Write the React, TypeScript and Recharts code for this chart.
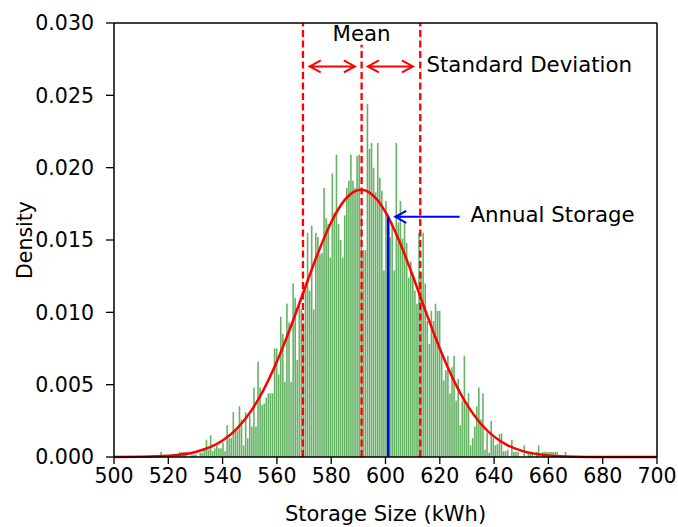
import {
  ComposedChart,
  Bar,
  Line,
  XAxis,
  YAxis,
  ReferenceLine,
  ReferenceDot,
  Label,
} from "recharts";

// axis ticks
const xTicks = [500, 520, 540, 560, 580, 600, 620, 640, 660, 680, 700];
const yTicks = [0, 0.005, 0.01, 0.015, 0.02, 0.025, 0.03];

// histogram: 200 bins starting at binStart, each binWidth kWh wide
const binStart = 516.2;
const binWidth = 0.76;
const binDensity = [
  0, 0.00035, 0, 0, 0, 0, 0, 0, 0, 0,
  0.00035, 0.00035, 0.00035, 0.00035, 0, 0, 0.00017, 0.00017, 0.00017, 0,
  0.0003, 0.0003, 0.0006, 0.0012, 0.0005, 0.0015, 0.0004, 0.0006, 0.0008, 0.0006,
  0.0006, 0.001, 0.0004, 0.0022, 0.0013, 0.0013, 0.0031, 0.0018, 0.0018, 0.0035,
  0.0026, 0.0008, 0.0031, 0.0013, 0.0029, 0.0021, 0.0048, 0.0021, 0.0066, 0.0048,
  0.0036, 0.0037, 0.0041, 0.0044, 0.0044, 0.0044, 0.0075, 0.0075, 0.0057, 0.0097,
  0.0085, 0.0052, 0.0106, 0.0093, 0.0052, 0.012, 0.011, 0.0067, 0.0106, 0.0102,
  0.0093, 0.012, 0.0155, 0.0115, 0.016, 0.0102, 0.0155, 0.0152, 0.014, 0.0141,
  0.0186, 0.0165, 0.0161, 0.0138, 0.0196, 0.0169, 0.0209, 0.0161, 0.015, 0.0138,
  0.0167, 0.0186, 0.0191, 0.0209, 0.0191, 0.0186, 0.0208, 0.0209, 0.0168, 0.0143,
  0.0143, 0.0244, 0.0213, 0.0217, 0.02, 0.0183, 0.0217, 0.0193, 0.0184, 0.0129,
  0.0177, 0.0168, 0.0152, 0.0162, 0.0129, 0.0217, 0.0162, 0.0177, 0.0151, 0.0162,
  0.0148, 0.0124, 0.0135, 0.0124, 0.0115, 0.0106, 0.0155, 0.0128, 0.0155, 0.012,
  0.0094, 0.0078, 0.0101, 0.0094, 0.0106, 0.0101, 0.0101, 0.0072, 0.0053, 0.006,
  0.007, 0.0044, 0.0062, 0.007, 0.0039, 0.0054, 0.0022, 0.0039, 0.007, 0.0035,
  0.0044, 0.0008, 0.0013, 0.0021, 0.0035, 0.0048, 0.0026, 0.0044, 0.0005, 0.0017,
  0.0003, 0.0025, 0.0013, 0.0008, 0.0009, 0.0016, 0.0016, 0.0004, 0.0004, 0.0005,
  0, 0.0012, 0.00035, 0.00035, 0.00035, 0, 0, 0.0008, 0, 0.00035,
  0.00035, 0.00035, 0, 0.00035, 0.0008, 0, 0.00035, 0.00035, 0.00035, 0.00035,
  0.00035, 0.00035, 0.00035, 0.00035, 0, 0, 0, 0.00035, 0, 0,
];

// fitted normal curve, sampled
const curveX = [
  500, 510, 520, 530, 540, 545, 550, 555, 560, 565, 570, 575, 580, 585, 588,
  591, 594, 597, 600, 605, 610, 615, 620, 625, 630, 635, 640, 645, 650, 660,
  670, 680, 690, 700,
];
const curveY = [
  0, 0.000016, 0.000083, 0.000342, 0.001136, 0.001912, 0.003048, 0.004607,
  0.006594, 0.008951, 0.011512, 0.014037, 0.016224, 0.017771, 0.018293,
  0.01847, 0.018293, 0.017771, 0.016934, 0.01497, 0.012543, 0.009963,
  0.007499, 0.005351, 0.003618, 0.00232, 0.001409, 0.000811, 0.000443,
  0.000112, 0.000023, 0.000003, 0, 0,
];

const meanKwh = 591.2;
const stdKwh = 21.6;
const annualKwh = 601;
const annualDensity = 0.0166;

const bars = binDensity.map((d, i) => ({
  x: binStart + (i + 0.5) * binWidth,
  density: d,
}));
const curve = curveX.map((x, i) => ({ x, y: curveY[i] }));

const FONT = "DejaVu Sans";
const RED = "#ff0000";
const BLUE = "#0000ff";
const BAR_PX = 1.6;

// thin histogram bar centred on its bin
const HistBar = (props: any) => {
  const { x, y, width, height } = props;
  if (!height || height <= 0) return <g />;
  const cx = x + width / 2;
  return (
    <rect
      x={cx - BAR_PX / 2}
      y={y}
      width={BAR_PX}
      height={height}
      fill="#008000"
      fillOpacity={0.6}
    />
  );
};

const arrowShape =
  (color: string, bothEnds: boolean) =>
  (props: any) => {
    const { x1, y1, x2 } = props;
    const left = Math.min(x1, x2);
    const right = Math.max(x1, x2);
    const y = y1;
    const L = 11;
    const H = 6;
    return (
      <g fill="none" stroke={color} strokeWidth={2}>
        <line x1={left} y1={y} x2={right} y2={y} />
        <polyline points={`${left + L},${y - H} ${left},${y} ${left + L},${y + H}`} />
        {bothEnds && (
          <polyline
            points={`${right - L},${y - H} ${right},${y} ${right - L},${y + H}`}
          />
        )}
      </g>
    );
  };

const textShape =
  (text: string, anchor: "start" | "middle" | "end") =>
  (props: any) =>
    (
      <text
        x={props.cx}
        y={props.cy}
        textAnchor={anchor}
        fontFamily={FONT}
        fontSize={21.3}
        fill="#000"
      >
        {text}
      </text>
    );

export default function App() {
  return (
    <div style={{ position: "absolute", left: 0, top: 0, background: "#fff" }}>
      <ComposedChart
        width={678}
        height={527}
        data={bars}
        margin={{ top: 23, right: 21, left: 0, bottom: 0 }}
        style={{ fontFamily: FONT }}
      >
        <XAxis
          dataKey="x"
          type="number"
          domain={[500, 700]}
          ticks={xTicks}
          allowDataOverflow
          height={70}
          tickSize={7}
          tickMargin={4}
          axisLine={{ stroke: "#000", strokeWidth: 1.5 }}
          tickLine={{ stroke: "#000", strokeWidth: 1.3 }}
          tick={{ fill: "#000", fontSize: 20.5, fontFamily: FONT }}
        >
          <Label
            value="Storage Size (kWh)"
            position="insideBottom"
            offset={6}
            style={{ fill: "#000", fontSize: 21, fontFamily: FONT }}
          />
        </XAxis>
        <YAxis
          type="number"
          domain={[0, 0.03]}
          ticks={yTicks}
          width={114}
          tickSize={8}
          tickMargin={12}
          tickFormatter={(v: number) => v.toFixed(3)}
          axisLine={{ stroke: "#000", strokeWidth: 1.5 }}
          tickLine={{ stroke: "#000", strokeWidth: 1.3 }}
          tick={{ fill: "#000", fontSize: 20.5, fontFamily: FONT }}
        >
          <Label
            value="Density"
            angle={-90}
            position="insideLeft"
            offset={25}
            style={{
              fill: "#000",
              fontSize: 20.5,
              fontFamily: FONT,
              textAnchor: "middle",
            }}
          />
        </YAxis>

        <Bar
          dataKey="density"
          fill="#008000"
          barSize={2}
          shape={HistBar}
          isAnimationActive={false}
        />
        <Line
          data={curve}
          dataKey="y"
          type="monotone"
          stroke={RED}
          strokeWidth={2.5}
          dot={false}
          activeDot={false}
          isAnimationActive={false}
        />

        {/* mean and one standard deviation either side */}
        <ReferenceLine
          segment={[
            { x: meanKwh, y: 0 },
            { x: meanKwh, y: 0.0285 },
          ]}
          stroke={RED}
          strokeWidth={2.3}
          strokeDasharray="7 3.5"
        />
        <ReferenceLine
          x={meanKwh - stdKwh}
          stroke={RED}
          strokeWidth={2.3}
          strokeDasharray="7 3.5"
        />
        <ReferenceLine
          x={meanKwh + stdKwh}
          stroke={RED}
          strokeWidth={2.3}
          strokeDasharray="7 3.5"
        />
        <ReferenceLine
          segment={[
            { x: 572.1, y: 0.027 },
            { x: 588.7, y: 0.027 },
          ]}
          shape={arrowShape(RED, true)}
        />
        <ReferenceLine
          segment={[
            { x: 593.5, y: 0.027 },
            { x: 610.1, y: 0.027 },
          ]}
          shape={arrowShape(RED, true)}
        />
        <ReferenceDot x={meanKwh} y={0.02878} shape={textShape("Mean", "middle")} />
        <ReferenceDot
          x={615.1}
          y={0.02663}
          shape={textShape("Standard Deviation", "start")}
        />

        {/* annual storage marker */}
        <ReferenceLine
          segment={[
            { x: annualKwh, y: 0 },
            { x: annualKwh, y: annualDensity },
          ]}
          stroke={BLUE}
          strokeWidth={2.6}
        />
        <ReferenceLine
          segment={[
            { x: 603.6, y: annualDensity },
            { x: 627.3, y: annualDensity },
          ]}
          shape={arrowShape(BLUE, false)}
        />
        <ReferenceDot
          x={631.3}
          y={0.01627}
          shape={textShape("Annual Storage", "start")}
        />

        {/* top and right frame */}
        <ReferenceLine y={0.03} stroke="#000" strokeWidth={1.5} />
        <ReferenceLine x={700} stroke="#000" strokeWidth={1.5} />
      </ComposedChart>
    </div>
  );
}
